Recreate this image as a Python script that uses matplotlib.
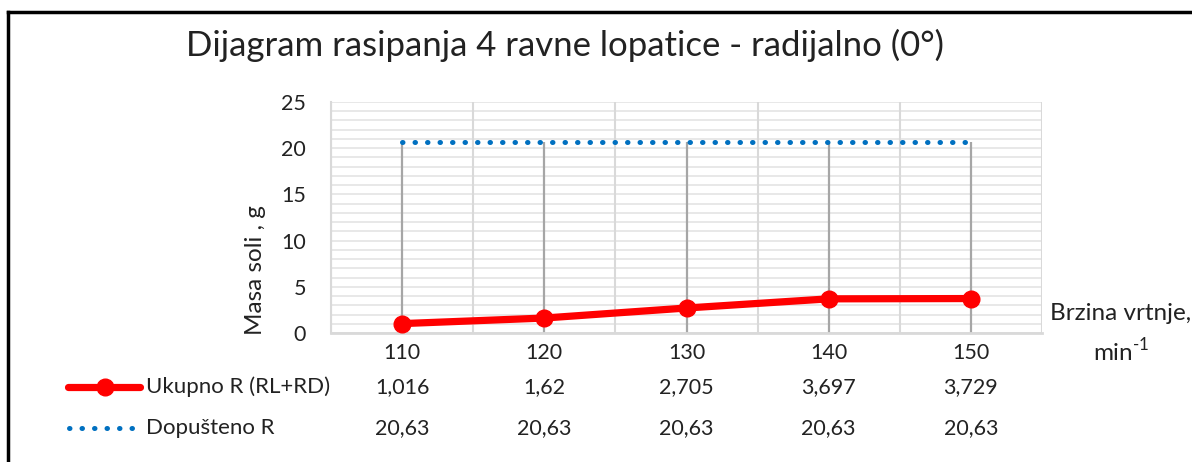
import matplotlib.pyplot as plt
import numpy as np
from matplotlib.lines import Line2D
from matplotlib.transforms import blended_transform_factory

plt.rcParams['font.family'] = ['Lato', 'DejaVu Sans']
plt.rcParams['mathtext.fontset'] = 'custom'
plt.rcParams['mathtext.rm'] = 'Lato'

brzina = [110, 120, 130, 140, 150]
ukupno = [1.016, 1.62, 2.705, 3.697, 3.729]
dopusteno = [20.63, 20.63, 20.63, 20.63, 20.63]
naziv_1 = 'Ukupno R (RL+RD)'
naziv_2 = 'Dopušteno R'

W, H = 1192, 462
fig = plt.figure(figsize=(W / 100, H / 100), dpi=100)
ax = fig.add_axes([331 / W, 1 - 333 / H, (1042 - 331) / W, (333 - 102) / H])

x = np.arange(len(brzina))
txt = '#222222'
dots = (0, (0.1, 2.4))

# grid: light horizontal every 1, vertical at category borders
for v in range(0, 26):
    ax.axhline(v, color='#e6e6e6', lw=1.3, zorder=0)
for b in np.arange(-0.5, len(brzina), 1.0):
    ax.axvline(b, color='#d9d9d9', lw=1.5, zorder=0)

# drop lines
ax.vlines(x, 0, dopusteno, color='#a6a6a6', lw=1.6, zorder=1)

ax.plot(x, dopusteno, color='#0070c0', lw=3.6, linestyle=dots,
        dash_capstyle='round', zorder=2)
ax.plot(x, ukupno, color='#ff0000', lw=5.2, marker='o', ms=12,
        solid_capstyle='round', zorder=3)

ax.set_xlim(-0.5, len(brzina) - 0.5)
ax.set_ylim(0, 25)
ax.set_yticks([0, 5, 10, 15, 20, 25])
ax.set_xticks([])
ax.tick_params(axis='y', length=0, labelsize=15.5, colors=txt, pad=18)
for s in ['top', 'right']:
    ax.spines[s].set_visible(False)
ax.spines['left'].set_color('#d9d9d9')
ax.spines['left'].set_linewidth(1.5)
ax.spines['bottom'].set_color('#d9d9d9')
ax.spines['bottom'].set_linewidth(2)

def fy(py):
    return 1 - py / H

fig.text(256 / W, fy(270), 'Masa soli , g', rotation=90, ha='center',
         va='center', fontsize=17.5, color=txt)

fig.suptitle('Dijagram rasipanja 4 ravne lopatice - radijalno (0°)',
             x=565 / W, y=fy(45), va='center', fontsize=25, color=txt)

# data table
tr = blended_transform_factory(ax.transData, fig.transFigure)
for i, b in enumerate(brzina):
    ax.text(i, fy(353), str(b), transform=tr, ha='center', va='center',
            fontsize=15.5, color=txt)
    ax.text(i, fy(387), str(ukupno[i]).replace('.', ','), transform=tr,
            ha='center', va='center', fontsize=15.5, color=txt)
    ax.text(i, fy(428), str(dopusteno[i]).replace('.', ','), transform=tr,
            ha='center', va='center', fontsize=15.5, color=txt)

fig.add_artist(Line2D([68 / W, 140 / W], [fy(387), fy(387)], color='#ff0000',
                      lw=5.2, solid_capstyle='round'))
fig.add_artist(Line2D([105 / W], [fy(387)], color='#ff0000', marker='o', ms=12))
fig.add_artist(Line2D([69 / W, 134 / W], [fy(428), fy(428)], color='#0070c0',
                      lw=3.6, linestyle=dots, dash_capstyle='round'))
fig.text(146 / W, fy(387), naziv_1, ha='left', va='center', fontsize=16, color=txt)
fig.text(146 / W, fy(428), naziv_2, ha='left', va='center', fontsize=16, color=txt)

fig.text(1121 / W, fy(313), 'Brzina vrtnje,', ha='center', va='center',
         fontsize=17.5, color=txt)
fig.text(1121 / W, fy(351), r'min$^{\text{-1}}$', ha='center', va='center',
         fontsize=17.5, color=txt)

# chart border (top and left visible)
fig.add_artist(Line2D([8 / W, 8 / W], [0, fy(12)], color='black', lw=2.5))
fig.add_artist(Line2D([8 / W, 1], [fy(12), fy(12)], color='black', lw=2.5))

fig.savefig('out.png', dpi=100)
